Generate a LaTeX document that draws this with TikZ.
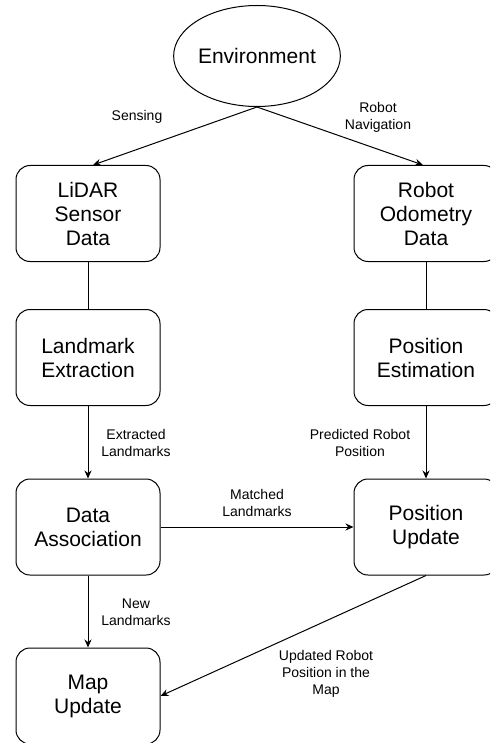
\documentclass[tikz,border=0pt]{standalone}
\usepackage{fontspec}
\setmainfont{Liberation Sans}
\usetikzlibrary{shapes.geometric,arrows.meta}

\begin{document}
\begin{tikzpicture}[x=1pt,y=-1pt,
                    block/.style={draw,rounded corners=14pt,line width=1pt,
                                  minimum width=144pt,minimum height=96pt,
                                  align=center,font=\fontsize{21}{24}\selectfont},
                    lbl/.style={align=center,font=\fontsize{14}{17}\selectfont},
                    flow/.style={line width=1pt,-{Stealth[length=8pt,width=7pt]}},
                    link/.style={line width=1pt}]
                    \useasboundingbox (0,0) rectangle (490,743);
                    \clip (0,0) rectangle (490,743);
                    % top
                    \node[draw,ellipse,line width=1pt,inner sep=0pt,
                          minimum width=148pt,minimum height=101pt,
                          font=\fontsize{21}{24}\selectfont] (env) at (257,56) {Environment};
                    % left column
                    \node[block] (lidar) at (88,213.5) {LiDAR\\Sensor\\Data};
                    \node[block] (extract) at (88,357.5) {Landmark\\Extraction};
                    \node[block] (assoc) at (88,527) {Data\\Association};
                    \node[block] (mapupd) at (88,696) {Map\\Update};
                    % right column
                    \node[block] (odo) at (426,213.5) {Robot\\Odometry\\Data};
                    \node[block] (estim) at (426,357.5) {Position\\Estimation};
                    \node[block] (posupd) at (426,527) {Position\\Update};
                    % connectors
                    \draw[flow] (env.south) -- ([xshift=5pt]lidar.north);
                    \draw[flow] (env.south) -- ([xshift=-3pt]odo.north);
                    \draw[link] (lidar) -- (extract);
                    \draw[link] (odo) -- (estim);
                    \draw[flow] (extract) -- (assoc);
                    \draw[flow] (estim) -- (posupd);
                    \draw[flow] (assoc) -- (posupd);
                    \draw[flow] (assoc) -- (mapupd);
                    \draw[flow] (posupd.south) -- (mapupd.east);
                    % labels
                    \node[lbl] (sensing) at (137,117) {Sensing};
                    \node[lbl] (nav) at (378,117) {Robot\\Navigation};
                    \node[lbl] (extracted) at (136,443) {Extracted\\Landmarks};
                    \node[lbl] (predicted) at (360,443) {Predicted Robot\\Position};
                    \node[lbl] (matched) at (257,503) {Matched\\Landmarks};
                    \node[lbl] (newlm) at (136,612) {New\\Landmarks};
                    \node[lbl] (updated) at (326,674) {Updated Robot\\Position in the\\Map};
                \end{tikzpicture}
\end{document}
